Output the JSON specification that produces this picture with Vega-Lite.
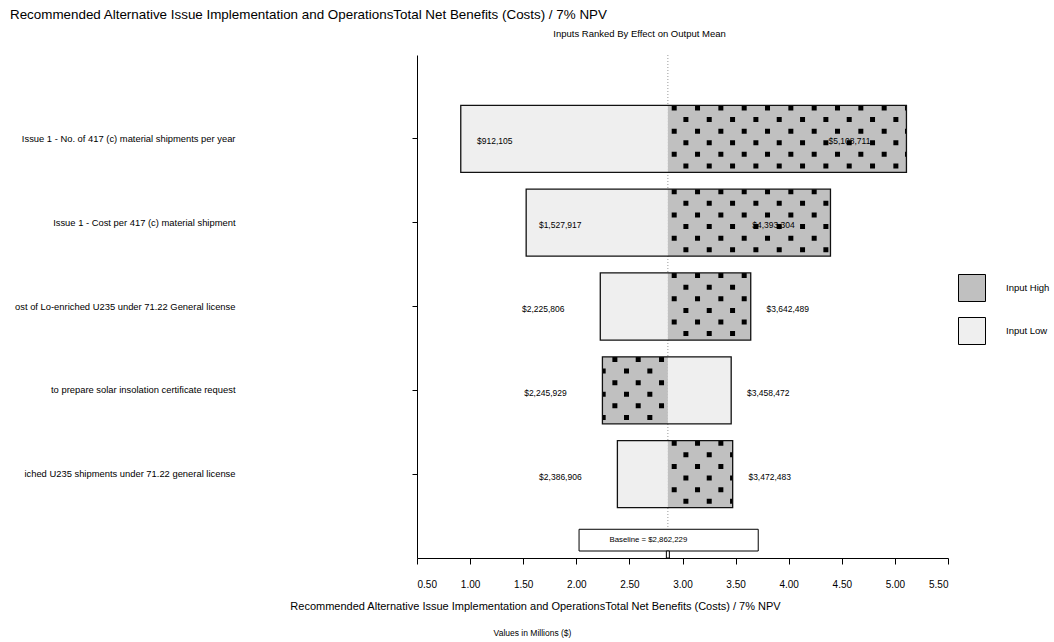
{
  "$schema": "https://vega.github.io/schema/vega-lite/v6.json",
  "width": 531,
  "height": 503,
  "autosize": {"type": "none"},
  "padding": {"left": 417, "top": 55, "right": 106, "bottom": 84},
  "background": "white",
  "config": {
    "font": "Liberation Sans",
    "view": {"stroke": null},
    "axis": {"grid": false, "domainColor": "#000", "tickColor": "#000", "labelColor": "#000", "titleColor": "#000", "titleFontWeight": "normal"}
  },
  "title": {
    "text": "Recommended Alternative Issue Implementation and OperationsTotal Net Benefits (Costs) / 7% NPV",
    "anchor": "start", "frame": "group", "dx": -407, "offset": 7,
    "fontSize": 13.4, "fontWeight": "normal", "color": "#000"
  },
  "datasets": {
    "rows": [
      {"input": "Issue 1 - No. of 417 (c) material shipments  per year", "low": 912105, "high": 5108711, "baseline": 2862229},
      {"input": "Issue 1 - Cost per  417 (c) material shipment", "low": 1527917, "high": 4393304, "baseline": 2862229},
      {"input": "ost of Lo-enriched U235 under 71.22 General license", "low": 2225806, "high": 3642489, "baseline": 2862229},
      {"input": "to prepare solar insolation certificate request", "low": 3458472, "high": 2245929, "baseline": 2862229},
      {"input": "iched U235 shipments under 71.22 general license", "low": 2386906, "high": 3472483, "baseline": 2862229}
    ],
    "base": [{"label": "Baseline = $2,862,229", "baseline": 2862229}]
  },
  "resolve": {"scale": {"y": "independent"}},
  "layer": [
    {
      "layer": [
        {
          "data": {"name": "base"},
          "mark": {"type": "rule", "color": "#9a9a9a", "strokeDash": [1, 2], "strokeWidth": 1},
          "encoding": {
            "x": {
              "field": "baseline", "type": "quantitative",
              "scale": {"domain": [500000, 5500000], "nice": false, "zero": false},
              "axis": {
                "values": [500000, 1000000, 1500000, 2000000, 2500000, 3000000, 3500000, 4000000, 4500000, 5000000, 5500000],
                "labelExpr": "format(datum.value / 1000000, '.2f')",
                "labelFontSize": 10, "labelPadding": 15, "tickSize": 6, "grid": false,
                "title": "Recommended Alternative Issue Implementation and OperationsTotal Net Benefits (Costs) / 7% NPV",
                "titleFontSize": 11, "titlePadding": 11, "titleX": 118, "titleAlign": "center"
              }
            }
          }
        },
        {
          "data": {"name": "rows"},
          "transform": [
            {"calculate": "min(datum.low, datum.high)", "as": "left"},
            {"calculate": "max(datum.low, datum.high)", "as": "right"},
            {"calculate": "datum.right - datum.left", "as": "wide"}
          ],
          "encoding": {
            "y": {
              "field": "input", "type": "nominal",
              "scale": {
                "domain": [
                  "Issue 1 - No. of 417 (c) material shipments  per year",
                  "Issue 1 - Cost per  417 (c) material shipment",
                  "ost of Lo-enriched U235 under 71.22 General license",
                  "to prepare solar insolation certificate request",
                  "iched U235 shipments under 71.22 general license"
                ],
                "paddingInner": 0.2, "paddingOuter": 0.6
              },
              "axis": {
                "title": "Inputs Ranked By Effect on Output Mean",
                "titleAngle": 0, "titleX": 222, "titleY": -22, "titleAlign": "center", "titleBaseline": "middle",
                "titleFontSize": 9.5,
                "labelFontSize": 9.4, "labelPadding": 177, "labelLimit": 400, "tickSize": 5,
                "labelAlign": "right"
              }
            }
          },
          "layer": [
            {
              "mark": {"type": "bar"},
              "encoding": {
                "x": {"field": "low", "type": "quantitative"},
                "x2": {"field": "baseline"},
                "fill": {
                  "datum": "Input Low", "type": "nominal",
                  "scale": {"domain": ["Input High", "Input Low"], "range": ["#c0c0c0", "#efefef"]},
                  "legend": {
                    "title": null, "orient": "none", "legendX": 541, "legendY": 219,
                    "symbolType": "square", "symbolSize": 729, "symbolStrokeColor": "#000", "symbolStrokeWidth": 1,
                    "labelFontSize": 9.5, "labelOffset": 20, "rowPadding": 11, "padding": 0, "labelColor": "#000",
                    "encode": {"symbols": {"update": {"stroke": {"value": "#000"}, "strokeWidth": {"value": 1}}}}
                  }
                }
              }
            },
            {
              "mark": {"type": "bar"},
              "encoding": {
                "x": {"field": "high", "type": "quantitative"},
                "x2": {"field": "baseline"},
                "fill": {"datum": "Input High", "type": "nominal"}
              }
            },
            {
              "mark": {"type": "rule", "color": "#000", "strokeWidth": 5, "strokeCap": "butt", "strokeDash": [5, 18.33], "strokeDashOffset": 19.5, "yOffset": -30.9},
              "encoding": {"x": {"field": "baseline", "type": "quantitative"}, "x2": {"field": "high"}}
            },
            {
              "mark": {"type": "rule", "color": "#000", "strokeWidth": 5, "strokeCap": "butt", "strokeDash": [5, 18.33], "strokeDashOffset": 7.8, "yOffset": -19.3},
              "encoding": {"x": {"field": "baseline", "type": "quantitative"}, "x2": {"field": "high"}}
            },
            {
              "mark": {"type": "rule", "color": "#000", "strokeWidth": 5, "strokeCap": "butt", "strokeDash": [5, 18.33], "strokeDashOffset": 19.5, "yOffset": -7.7},
              "encoding": {"x": {"field": "baseline", "type": "quantitative"}, "x2": {"field": "high"}}
            },
            {
              "mark": {"type": "rule", "color": "#000", "strokeWidth": 5, "strokeCap": "butt", "strokeDash": [5, 18.33], "strokeDashOffset": 7.8, "yOffset": 3.9},
              "encoding": {"x": {"field": "baseline", "type": "quantitative"}, "x2": {"field": "high"}}
            },
            {
              "mark": {"type": "rule", "color": "#000", "strokeWidth": 5, "strokeCap": "butt", "strokeDash": [5, 18.33], "strokeDashOffset": 19.5, "yOffset": 15.5},
              "encoding": {"x": {"field": "baseline", "type": "quantitative"}, "x2": {"field": "high"}}
            },
            {
              "mark": {"type": "rule", "color": "#000", "strokeWidth": 5, "strokeCap": "butt", "strokeDash": [5, 18.33], "strokeDashOffset": 7.8, "yOffset": 27.1},
              "encoding": {"x": {"field": "baseline", "type": "quantitative"}, "x2": {"field": "high"}}
            },
            {
              "mark": {"type": "bar", "fillOpacity": 0, "stroke": "#111", "strokeWidth": 1.3},
              "encoding": {"x": {"field": "left", "type": "quantitative"}, "x2": {"field": "right"}}
            },
            {
              "transform": [{"filter": "datum.wide > 2000000"}],
              "mark": {"type": "text", "fontSize": 8.5, "align": "center", "baseline": "middle", "dx": 34, "dy": 2.5, "color": "#000"},
              "encoding": {"x": {"field": "left", "type": "quantitative"}, "text": {"field": "left", "type": "quantitative", "format": "$,.0f"}}
            },
            {
              "transform": [{"filter": "datum.wide > 2000000"}],
              "mark": {"type": "text", "fontSize": 8.5, "align": "center", "baseline": "middle", "dx": -57, "dy": 2.5, "color": "#000"},
              "encoding": {"x": {"field": "right", "type": "quantitative"}, "text": {"field": "right", "type": "quantitative", "format": "$,.0f"}}
            },
            {
              "transform": [{"filter": "datum.wide <= 2000000"}],
              "mark": {"type": "text", "fontSize": 8.5, "align": "center", "baseline": "middle", "dx": -57, "dy": 2.5, "color": "#000"},
              "encoding": {"x": {"field": "left", "type": "quantitative"}, "text": {"field": "left", "type": "quantitative", "format": "$,.0f"}}
            },
            {
              "transform": [{"filter": "datum.wide <= 2000000"}],
              "mark": {"type": "text", "fontSize": 8.5, "align": "center", "baseline": "middle", "dx": 37, "dy": 2.5, "color": "#000"},
              "encoding": {"x": {"field": "right", "type": "quantitative"}, "text": {"field": "right", "type": "quantitative", "format": "$,.0f"}}
            }
          ]
        }
      ]
    },
    {
      "data": {"name": "base"},
      "layer": [
        {
          "mark": {"type": "rect", "fill": "white", "stroke": "#000", "strokeWidth": 1},
          "encoding": {
            "x": {"datum": 2026000, "type": "quantitative"},
            "x2": {"datum": 3713000},
            "y": {
              "datum": 0.0571, "type": "quantitative", "scale": {"domain": [0, 1], "nice": false},
              "axis": {
                "orient": "right", "title": "Values in Millions ($)", "domain": false, "ticks": false, "labels": false, "grid": false,
                "titleAngle": 0, "titleX": -416, "titleY": 577, "titleAlign": "center", "titleBaseline": "middle", "titleFontSize": 8.5
              }
            },
            "y2": {"datum": 0.0139}
          }
        },
        {
          "mark": {"type": "text", "fontSize": 7.8, "align": "center", "baseline": "middle", "dx": -19.5, "color": "#000"},
          "encoding": {
            "x": {"field": "baseline", "type": "quantitative"},
            "y": {"datum": 0.0355, "type": "quantitative"},
            "text": {"field": "label"}
          }
        },
        {
          "mark": {"type": "rect", "fill": "white", "stroke": "#000", "strokeWidth": 1, "xOffset": -1.5, "x2Offset": 1.5},
          "encoding": {
            "x": {"field": "baseline", "type": "quantitative"},
            "x2": {"field": "baseline"},
            "y": {"datum": 0.0139, "type": "quantitative"},
            "y2": {"datum": 0}
          }
        }
      ]
    }
  ]
}
